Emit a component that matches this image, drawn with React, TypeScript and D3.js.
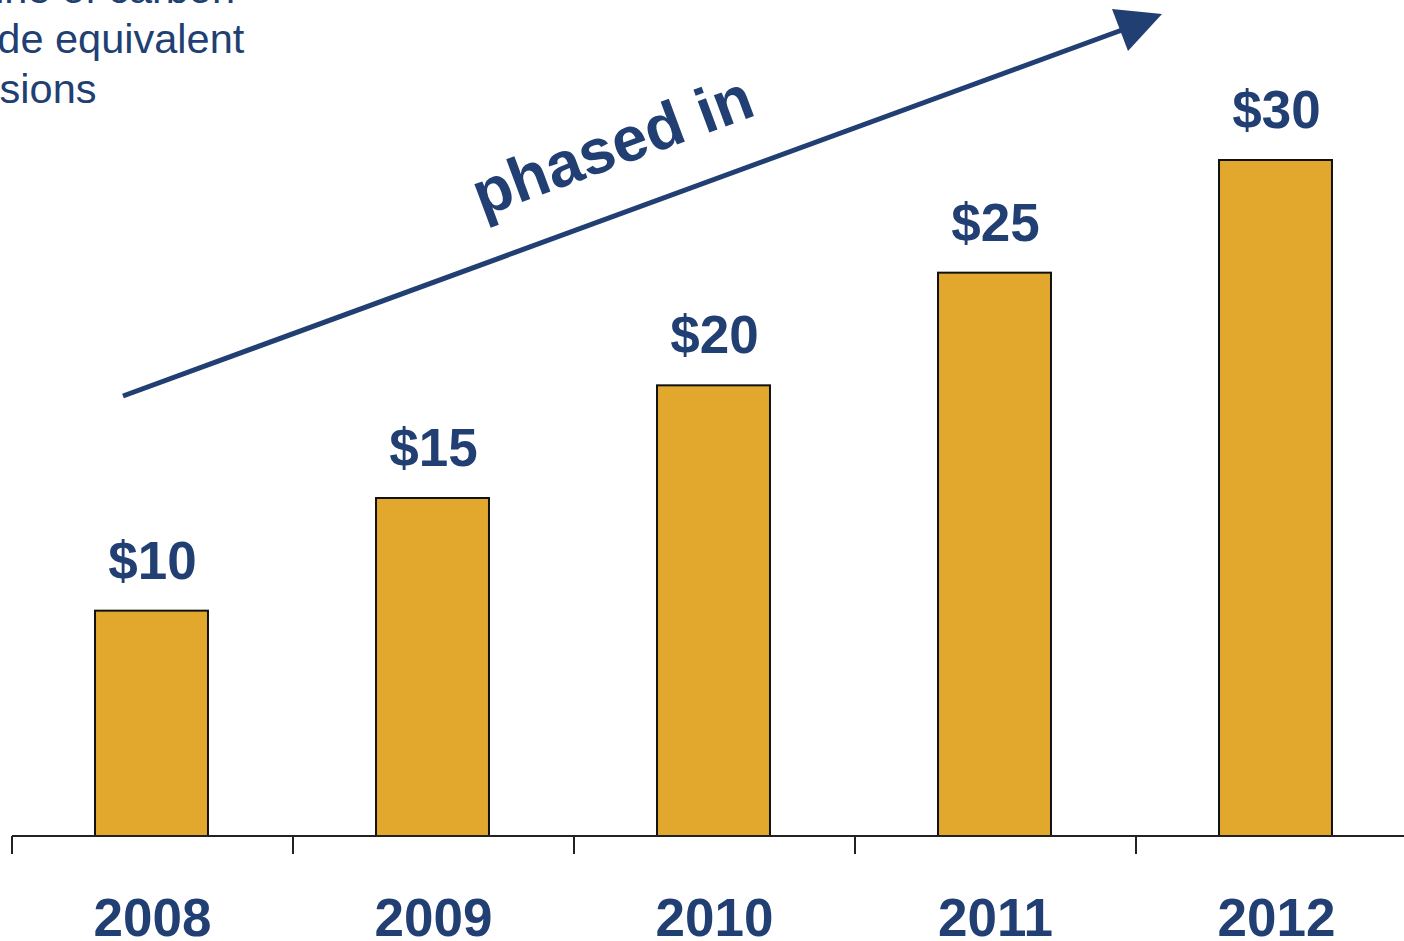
import React from "react";
import * as d3 from "d3";

const years = ["2008", "2009", "2010", "2011", "2012"];
const prices = [10, 15, 20, 25, 30];
const valueLabels = ["$10", "$15", "$20", "$25", "$30"];
const titleLines = ["$/tonne of carbon", "dioxide equivalent", "emissions"];
const arrowLabel = "phased in";

const W = 1404;
const H = 941;
const NAVY = "#213f72";
const GOLD = "#e2a72d";

export default function App() {
  const x = d3
    .scaleBand<string>()
    .domain(years)
    .range([12, 1417])
    .paddingInner(0.598)
    .paddingOuter(0.299);
  const step = x.step();
  const y = d3.scaleLinear().domain([0, 30]).range([836, 160]);
  const base = y(0);
  const tickXs = d3.range(years.length + 1).map((i) => 12 + i * step);

  const arrowStart: [number, number] = [123, 396];
  const arrowEnd: [number, number] = [1122, 30];
  const head = [
    [1112, 9],
    [1162, 14],
    [1128, 51],
  ];
  const ang = -20.4;

  return (
    <svg
      width={W}
      height={H}
      style={{ position: "absolute", left: 0, top: 0, overflow: "hidden", background: "#fff" }}
      fontFamily="'Liberation Sans', Arial, sans-serif"
    >
      <rect x={0} y={0} width={W} height={H} fill="#fff" />
      {/* title text, partially cut off at left */}
      <g fill={NAVY} fontSize={41.5}>
        {titleLines.map((t, i) => (
          <text key={i} x={-88} y={3 + i * 50}>
            {t}
          </text>
        ))}
      </g>
      {/* bars */}
      {years.map((yr, i) => (
        <rect
          key={yr}
          x={(x(yr) as number) - 1}
          y={y(prices[i])}
          width={x.bandwidth()}
          height={base - y(prices[i])}
          fill={GOLD}
          stroke="#111"
          strokeWidth={2}
        />
      ))}
      {/* value labels */}
      {years.map((yr, i) => (
        <text
          key={"v" + yr}
          x={(x(yr) as number) + x.bandwidth() / 2}
          y={y(prices[i]) - 32}
          textAnchor="middle"
          fontSize={53}
          fontWeight="bold"
          fill={NAVY}
        >
          {valueLabels[i]}
        </text>
      ))}
      {/* axis */}
      <line x1={12} x2={1417} y1={base} y2={base} stroke="#222" strokeWidth={2} />
      {tickXs.map((tx, i) => (
        <line key={"t" + i} x1={tx} x2={tx} y1={base} y2={base + 18} stroke="#222" strokeWidth={2} />
      ))}
      {years.map((yr) => (
        <text
          key={"y" + yr}
          x={(x(yr) as number) + x.bandwidth() / 2}
          y={936}
          textAnchor="middle"
          fontSize={53}
          fontWeight="bold"
          fill={NAVY}
        >
          {yr}
        </text>
      ))}
      {/* arrow annotation */}
      <line
        x1={arrowStart[0]}
        y1={arrowStart[1]}
        x2={arrowEnd[0]}
        y2={arrowEnd[1]}
        stroke={NAVY}
        strokeWidth={5}
      />
      <polygon points={head.map((p) => p.join(",")).join(" ")} fill={NAVY} />
      <text
        transform={`translate(482,217) rotate(${ang})`}
        fontSize={63}
        fontWeight="bold"
        fill={NAVY}
      >
        {arrowLabel}
      </text>
    </svg>
  );
}
